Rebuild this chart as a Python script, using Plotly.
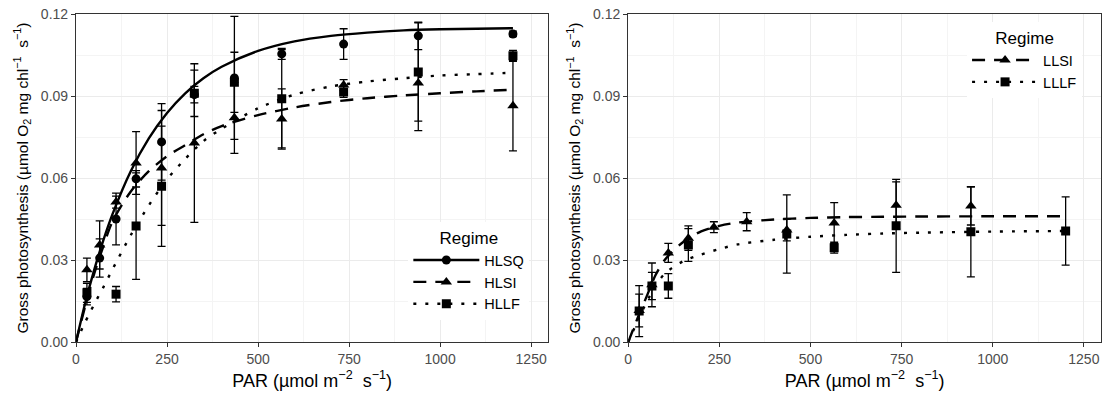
import plotly.graph_objects as go

# ---------------- data ----------------
# High-light panel: measured points
par_hl = [30, 65, 110, 165, 235, 325, 435, 565, 735, 940, 1200]
hlsq = [0.0166, 0.0307, 0.0450, 0.0597, 0.0732, 0.0905, 0.0966, 0.1054, 0.1090, 0.1120, 0.1127]
hlsq_err = [0.0030, 0.0070, 0.0095, 0.0030, 0.0140, 0.0030, 0.0225, 0.0020, 0.0056, 0.0050, 0.0010]
hlsi = [0.0264, 0.0355, 0.0512, 0.0655, 0.0637, 0.0728, 0.0820, 0.0816, 0.0940, 0.0948, 0.0864]
hlsi_err = [0.0043, 0.0088, 0.0022, 0.0115, 0.0210, 0.0290, 0.0130, 0.0110, 0.0020, 0.0175, 0.0165]
par_hllf = [30, 110, 165, 235, 325, 435, 565, 735, 940, 1200]
hllf = [0.0180, 0.0175, 0.0424, 0.0570, 0.0910, 0.0950, 0.0890, 0.0915, 0.0988, 0.1047]
hllf_err = [0.0035, 0.0028, 0.0195, 0.0220, 0.0085, 0.0110, 0.0180, 0.0020, 0.0180, 0.0020]

# High-light panel: fitted curves
par_fit = [0, 25, 50, 75, 100, 150, 200, 250, 300, 350, 400, 500, 600, 700, 800, 900, 1000, 1100, 1200]
hlsq_fit = [0, 0.0141, 0.0264, 0.0372, 0.0467, 0.0624, 0.0745, 0.0838, 0.0910, 0.0965, 0.1007, 0.1065,
            0.1100, 0.1120, 0.1132, 0.1140, 0.1144, 0.1146, 0.1148]
hlsi_fit = [0, 0.0130, 0.0250, 0.0350, 0.0440, 0.0550, 0.0625, 0.0680, 0.0720, 0.0760, 0.0790, 0.0830,
            0.0858, 0.0878, 0.0892, 0.0902, 0.0910, 0.0917, 0.0923]
hllf_fit = [0, 0.0072, 0.0138, 0.0200, 0.0265, 0.0390, 0.0500, 0.0595, 0.0670, 0.0735, 0.0780, 0.0855,
            0.0905, 0.0935, 0.0953, 0.0965, 0.0975, 0.0980, 0.0985]

# Low-light panel: measured points
par_llsi = [30, 65, 110, 165, 235, 325, 435, 565, 735, 940]
llsi = [0.0115, 0.0209, 0.0326, 0.0380, 0.0420, 0.0440, 0.0410, 0.0435, 0.0500, 0.0498]
llsi_err = [0.0060, 0.0080, 0.0035, 0.0045, 0.0020, 0.0033, 0.0040, 0.0075, 0.0086, 0.0070]
par_lllf = [30, 65, 110, 165, 435, 565, 735, 940, 1200]
lllf = [0.0113, 0.0205, 0.0205, 0.0355, 0.0395, 0.0345, 0.0425, 0.0403, 0.0406]
lllf_err = [0.0093, 0.0050, 0.0045, 0.0060, 0.0143, 0.0020, 0.0170, 0.0165, 0.0125]

# Low-light panel: fitted curves
par_fit_ll = [0, 25, 50, 75, 100, 150, 200, 250, 300, 400, 500, 600, 700, 800, 1000, 1200]
llsi_fit = [0, 0.0085, 0.0165, 0.0245, 0.0300, 0.0365, 0.0405, 0.0425, 0.0437, 0.0448, 0.0454, 0.0457,
            0.0458, 0.0459, 0.0460, 0.0460]
lllf_fit = [0, 0.0075, 0.0145, 0.0205, 0.0250, 0.0295, 0.0320, 0.0340, 0.0357, 0.0374, 0.0385, 0.0392,
            0.0397, 0.0400, 0.0404, 0.0406]

regimes_hl = ["HLSQ", "HLSI", "HLLF"]
regimes_ll = ["LLSI", "LLLF"]
y_ticks = [0, 0.03, 0.06, 0.09, 0.12]
x_ticks = [0, 250, 500, 750, 1000, 1250]

# ---------------- styles ----------------
FONT = "Liberation Sans, Arial, Helvetica, sans-serif"
LW = 2.4
DASH = "13px,9px"
DOT = "3px,9px"
styles = {
    "solid": dict(color="black", width=LW, dash="solid"),
    "dash": dict(color="black", width=LW, dash=DASH),
    "dot": dict(color="black", width=LW, dash=DOT),
}
markers = {
    "circle": dict(symbol="circle", size=9, color="black"),
    "tri": dict(symbol="triangle-up", size=10, color="black"),
    "sq": dict(symbol="square", size=9, color="black"),
}

fig = go.Figure()


def add_curve(x, y, ls, xa, ya):
    fig.add_trace(go.Scatter(x=x, y=y, mode="lines", line=dict(**styles[ls], shape="spline", smoothing=0.8),
                             showlegend=False, hoverinfo="skip", xaxis=xa, yaxis=ya))


def add_points(x, y, err, mk, xa, ya):
    fig.add_trace(go.Scatter(x=x, y=y, mode="markers", marker=markers[mk],
                             error_y=dict(type="data", array=err, visible=True, color="black",
                                          thickness=1.3, width=4),
                             showlegend=False, xaxis=xa, yaxis=ya))


def add_legend_entry(name, ls, mk, leg, xa, ya):
    fig.add_trace(go.Scatter(x=[None], y=[None], mode="lines+markers", name=name,
                             line=styles[ls], marker=markers[mk], legend=leg, xaxis=xa, yaxis=ya))


# left panel
add_curve(par_fit, hlsq_fit, "solid", "x", "y")
add_curve(par_fit, hlsi_fit, "dash", "x", "y")
add_curve(par_fit, hllf_fit, "dot", "x", "y")
add_points(par_hl, hlsq, hlsq_err, "circle", "x", "y")
add_points(par_hl, hlsi, hlsi_err, "tri", "x", "y")
add_points(par_hllf, hllf, hllf_err, "sq", "x", "y")
add_legend_entry(regimes_hl[0], "solid", "circle", "legend", "x", "y")
add_legend_entry(regimes_hl[1], "dash", "tri", "legend", "x", "y")
add_legend_entry(regimes_hl[2], "dot", "sq", "legend", "x", "y")

# right panel
add_curve(par_fit_ll, llsi_fit, "dash", "x2", "y2")
add_curve(par_fit_ll, lllf_fit, "dot", "x2", "y2")
add_points(par_llsi, llsi, llsi_err, "tri", "x2", "y2")
add_points(par_lllf, lllf, lllf_err, "sq", "x2", "y2")
add_legend_entry(regimes_ll[0], "dash", "tri", "legend2", "x2", "y2")
add_legend_entry(regimes_ll[1], "dot", "sq", "legend2", "x2", "y2")

# ---------------- axes ----------------
W, H = 1102, 394
ML, MR, MT, MB = 75.5, 1, 14, 52
PW = W - ML - MR

def xd(px):
    return (px - ML) / PW

x_common = dict(
    range=[0, 1297], tickvals=x_ticks, ticktext=[str(v) for v in x_ticks],
    showline=True, mirror=True, linecolor="#333333", linewidth=1.2,
    showgrid=True, gridcolor="#EBEBEB", gridwidth=1, zeroline=False,
    ticks="outside", ticklen=4, tickcolor="#333333", tickwidth=1,
    tickfont=dict(family=FONT, size=14, color="#4D4D4D"),
    minor=dict(tickvals=[125, 375, 625, 875, 1125], showgrid=True, gridcolor="#F4F4F4", gridwidth=1, ticklen=0),
    title=dict(text="PAR (µmol m<sup>−2</sup>  s<sup>−1</sup>)", font=dict(family=FONT, size=18, color="black"),
               standoff=8),
)
y_common = dict(
    range=[0, 0.12], tickvals=y_ticks, ticktext=["%.2f" % v for v in y_ticks],
    showline=True, mirror=True, linecolor="#333333", linewidth=1.2,
    showgrid=True, gridcolor="#EBEBEB", gridwidth=1, zeroline=False,
    ticks="outside", ticklen=4, tickcolor="#333333", tickwidth=1,
    tickfont=dict(family=FONT, size=14, color="#4D4D4D"),
    minor=dict(tickvals=[0.015, 0.045, 0.075, 0.105], showgrid=True, gridcolor="#F4F4F4", gridwidth=1, ticklen=0),
    title=dict(text="Gross photosynthesis (µmol O<sub>2</sub> mg chl<sup>−1</sup>  s<sup>−1</sup>)",
               font=dict(family=FONT, size=15.5, color="black"), standoff=8),
)

fig.update_layout(
    width=W, height=H,
    margin=dict(l=ML, r=MR, t=MT, b=MB),
    paper_bgcolor="white", plot_bgcolor="white",
    font=dict(family=FONT, color="black"),
    xaxis=dict(domain=[0, xd(548)], anchor="y", **x_common),
    yaxis=dict(domain=[0, 1], anchor="x", **y_common),
    xaxis2=dict(domain=[xd(628), 1], anchor="y2", **x_common),
    yaxis2=dict(domain=[0, 1], anchor="x2", **y_common),
    legend=dict(x=xd(408), y=(342 - 222) / 328, xanchor="left", yanchor="top",
                bgcolor="white", borderwidth=0, itemwidth=66, traceorder="normal",
                title=dict(text="Regime", side="top center", font=dict(family=FONT, size=17)),
                font=dict(family=FONT, size=14.5, color="black")),
    legend2=dict(x=xd(967), y=(342 - 22) / 328, xanchor="left", yanchor="top",
                 bgcolor="white", borderwidth=0, itemwidth=66, traceorder="normal",
                 title=dict(text="Regime", side="top center", font=dict(family=FONT, size=17)),
                 font=dict(family=FONT, size=14.5, color="black")),
    showlegend=True,
)

fig.write_html("out.html")
